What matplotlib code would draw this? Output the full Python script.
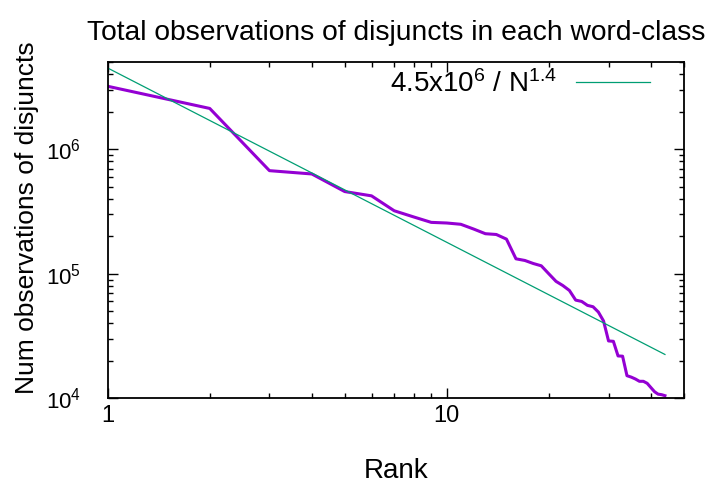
import numpy as np
from matplotlib import pyplot as plt
from matplotlib.ticker import LogLocator, NullFormatter, FixedLocator, FixedFormatter

plt.rcParams['font.family'] = ['Liberation Sans', 'DejaVu Sans']
plt.rcParams['mathtext.fontset'] = 'custom'
plt.rcParams['mathtext.rm'] = 'Liberation Sans'
plt.rcParams['mathtext.it'] = 'Liberation Sans'
plt.rcParams['mathtext.bf'] = 'Liberation Sans'

rank = np.arange(1, 45)
counts = [3.21e6, 2.13e6, 6.74e5, 6.34e5, 4.58e5, 4.23e5, 3.21e5, 2.86e5, 2.59e5, 2.56e5,
          2.50e5, 2.29e5, 2.10e5, 2.07e5, 1.90e5, 1.32e5, 1.28e5, 1.21e5, 1.16e5, 1.00e5,
          8.70e4, 8.05e4, 7.35e4, 6.15e4, 6.00e4, 5.58e4, 5.44e4, 4.93e4, 4.18e4, 2.89e4,
          2.87e4, 2.19e4, 2.18e4, 1.52e4, 1.48e4, 1.43e4, 1.37e4, 1.37e4, 1.32e4, 1.22e4,
          1.13e4, 1.08e4, 1.07e4, 1.05e4]

fit_amp = 4.5e6
fit_exp = 1.4

x_ticks = [1, 10]
x_labels = ['1', '10']


def main():
    fig = plt.figure(figsize=(7.13, 4.86), dpi=100)
    ax = fig.add_axes([0.151, 0.1804, 0.808, 0.6914])

    ax.plot(rank, counts, color='#9400d3', linewidth=2.2)
    ax.plot(rank, fit_amp / rank ** fit_exp, color='#009e73', linewidth=0.9,
            label=r'4.5x10$^{6}$ / N$^{1.4}$')

    ax.set_xscale('log')
    ax.set_yscale('log')
    ax.set_xlim(1, 50)
    ax.set_ylim(1e4, 5e6)

    ax.xaxis.set_major_locator(FixedLocator(x_ticks))
    ax.xaxis.set_major_formatter(FixedFormatter(x_labels))
    ax.xaxis.set_minor_locator(LogLocator(base=10, subs=np.arange(2, 10)))
    ax.xaxis.set_minor_formatter(NullFormatter())
    ax.yaxis.set_major_locator(LogLocator(base=10))
    ax.yaxis.set_minor_locator(LogLocator(base=10, subs=np.arange(2, 10)))
    ax.yaxis.set_minor_formatter(NullFormatter())

    ax.tick_params(which='both', direction='in', top=True, right=True,
                   labelsize=16, width=1.0)
    ax.tick_params(which='major', length=7)
    ax.tick_params(axis='x', which='major', labelsize=17, pad=5)
    ax.tick_params(axis='y', which='major', pad=19)
    ax.tick_params(which='minor', length=3.5)
    for s in ax.spines.values():
        s.set_linewidth(1.3)

    ax.set_xlabel('Rank', fontsize=20, labelpad=22)
    ax.set_ylabel('Num observations of disjuncts', fontsize=19)
    ax.yaxis.set_label_coords(-0.119, 0.537)
    ax.set_title('Total observations of disjuncts in each word-class', fontsize=20.3, pad=16)

    ax.legend(loc='center right', frameon=False, fontsize=20, markerfirst=False,
              handlelength=2.65, handletextpad=0.68, borderaxespad=0, borderpad=0,
              bbox_to_anchor=(0.9415, 0.935))

    fig.savefig('out.png', dpi=100)


if __name__ == '__main__':
    main()
